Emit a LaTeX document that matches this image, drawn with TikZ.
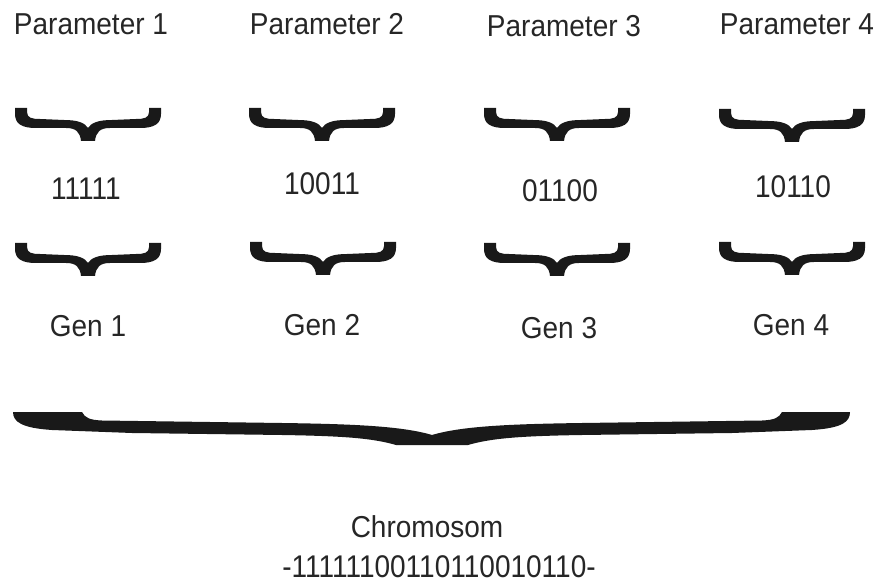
\documentclass[tikz,border=0pt]{standalone}
\usepackage{fontspec}
\setmainfont{Liberation Sans}
% the lettering is set a little taller than the font's natural proportions
\newcommand\wordtext[1]{\scalebox{1}[1.08]{#1}}
\newcommand\digittext[1]{\scalebox{1}[1.12]{#1}}
\tikzset{
  lbl/.style={inner sep=0pt, text=black!85, font=\fontsize{28}{32}\selectfont},
  bracefill/.style={fill=black!90, draw=none},
}
% small horizontal brace, origin at the middle of its top edge, tip pointing down
\newcommand\smallbrace[2]{%
  \fill[bracefill, shift={(#1,#2)}]
    (-73,0) -- (-61,0) -- (-61,4)
    .. controls (-61,10) and (-56,11) .. (-48,11) -- (-24,12)
    .. controls (-10,12) and (-3,15) .. (0,20)
    .. controls (3,15) and (10,12) .. (24,12) -- (48,11)
    .. controls (56,11) and (61,10) .. (61,4) -- (61,0) -- (73,0) -- (73,6)
    .. controls (73,16) and (66,20) .. (52,20) -- (22,20)
    .. controls (12,20) and (8,24) .. (7,33) -- (-7,33)
    .. controls (-8,24) and (-12,20) .. (-22,20) -- (-52,20)
    .. controls (-66,20) and (-73,16) .. (-73,6) -- cycle;}
\begin{document}
\begin{tikzpicture}[x=1pt,y=-1pt]
\useasboundingbox (0,0) rectangle (876,585);

% parameter names
\node[lbl] (p1) at (91,24) {\wordtext{Parameter 1}};
\node[lbl] (p2) at (327,24) {\wordtext{Parameter 2}};
\node[lbl] (p3) at (564,26) {\wordtext{Parameter 3}};
\node[lbl] (p4) at (797,24) {\wordtext{Parameter 4}};

% braces under the parameter names
\smallbrace{88}{108}
\smallbrace{322}{108}
\smallbrace{557}{108}
\smallbrace{792}{109}

% binary values
\node[lbl] (b1) at (86,189) {\digittext{11111}};
\node[lbl] (b2) at (322,184) {\digittext{10011}};
\node[lbl] (b3) at (560,191) {\digittext{01100}};
\node[lbl] (b4) at (793,187) {\digittext{10110}};

% braces under the values
\smallbrace{88}{243}
\smallbrace{323}{242}
\smallbrace{557}{243}
\smallbrace{792}{242}

% gene labels
\node[lbl] (g1) at (88,326) {\wordtext{Gen 1}};
\node[lbl] (g2) at (322,325) {\wordtext{Gen 2}};
\node[lbl] (g3) at (559,328) {\wordtext{Gen 3}};
\node[lbl] (g4) at (791,325) {\wordtext{Gen 4}};

% long brace gathering all genes
\fill[bracefill, shift={(432,412)}]
  (-419,0) -- (-350,0)
  .. controls (-347,6) and (-342,8) .. (-330,8.5) -- (-150,11)
  .. controls (-80,12) and (-30,14) .. (0,23)
  .. controls (30,14) and (80,12) .. (150,11) -- (330,8.5)
  .. controls (342,8) and (347,6) .. (350,0) -- (418,0)
  .. controls (418,10) and (410,16) .. (380,18) -- (300,21) -- (150,23)
  .. controls (90,24) and (60,26) .. (36,33) -- (-36,33)
  .. controls (-60,26) and (-90,24) .. (-150,23) -- (-300,21) -- (-380,18)
  .. controls (-410,16) and (-419,10) .. (-419,0) -- cycle;

% chromosome
\node[lbl] (chr) at (427,527) {\wordtext{Chromosom}};
\node[lbl] (bits) at (439,567) {\digittext{-11111100110110010110-}};
\end{tikzpicture}
\end{document}
